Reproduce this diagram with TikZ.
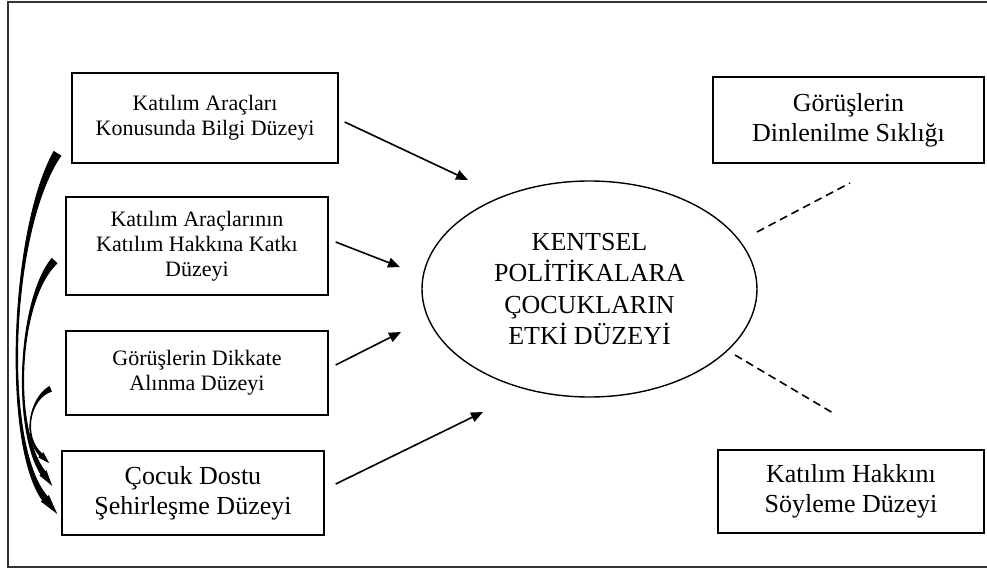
\documentclass[tikz,border=0pt]{standalone}
\usepackage{fontspec}
\setmainfont{Liberation Serif}
\usetikzlibrary{arrows.meta,shapes.geometric}

\begin{document}
\begin{tikzpicture}[x=0.5pt,y=-0.5pt,
    box/.style={draw,line width=0.7pt,align=center,inner sep=0pt,minimum width=131pt},
    small/.style={font=\fontsize{11}{12.5}\selectfont},
    big/.style={font=\fontsize{13}{15}\selectfont},
    arr/.style={line width=0.8pt,-{Triangle[length=6pt,width=5pt]}},
    dashline/.style={line width=0.8pt,dash pattern=on 4pt off 2.5pt},
    sidelink/.style={line width=0.5pt}]
    \useasboundingbox (0,0) rectangle (987,572);
    \draw[line width=1pt,black!80] (8,2) rectangle (995,567);

    % factor boxes
    \node[box,small,minimum width=133pt,minimum height=45pt] (b1) at (205,118) {Katılım Araçları\\Konusunda Bilgi Düzeyi};
    \node[box,small,minimum height=49pt] (b2) at (197,246) {Katılım Araçlarının\\Katılım Hakkına Katkı\\Düzeyi};
    \node[box,small,minimum height=42pt] (b3) at (197,373) {Görüşlerin Dikkate\\Alınma Düzeyi};
    \node[box,big,minimum height=42pt] (b4) at (193,493) {Çocuk Dostu\\Şehirleşme Düzeyi};
    \node[box,big,minimum width=135.5pt,minimum height=43pt] (b5) at (848.5,120) {Görüşlerin\\Dinlenilme Sıklığı};
    \node[box,big,minimum width=133pt,minimum height=41.5pt] (b6) at (851,491.5) {Katılım Hakkını\\Söyleme Düzeyi};
    \node[ellipse,draw,line width=0.7pt,minimum width=167.5pt,minimum height=108pt,inner sep=0pt,
          align=center,font=\fontsize{13}{15.75}\selectfont] (core) at (589.5,289)
          {KENTSEL\\POLİTİKALARA\\ÇOCUKLARIN\\ETKİ DÜZEYİ};

    % arrows towards the ellipse
    \coordinate (t1) at (468,180);
    \coordinate (t2) at (400,267);
    \coordinate (t3) at (401,332);
    \coordinate (t4) at (483,412);
    \draw[arr] ([xshift=3pt,yshift=-2pt]b1.east) -- (t1);
    \draw[arr] ([xshift=3.5pt,yshift=2pt]b2.east) -- (t2);
    \draw[arr] ([xshift=3.5pt,yshift=4pt]b3.east) -- (t3);
    \draw[arr] ([xshift=5.5pt,yshift=4.5pt]b4.east) -- (t4);

    % dashed links
    \coordinate (d1) at (757,232);
    \coordinate (d2) at (850,183);
    \coordinate (d3) at (735,355);
    \coordinate (d4) at (833,413);
    \draw[dashline] (d1) -- (d2);
    \draw[dashline] (d3) -- (d4);

    % curved links on the left (tapered strokes)
    \coordinate (s1) at ([shift={(-7pt,5pt)}]b1.south west);
    \coordinate (s2) at ([shift={(-5.5pt,-7.5pt)}]b2.west);
    \coordinate (s3) at ([shift={(-7.5pt,-8pt)}]b3.west);
    \coordinate (f1) at ([shift={(-2pt,-10.5pt)}]b4.west);
    \coordinate (f2) at ([shift={(-4.5pt,3.5pt)}]b4.west);
    \coordinate (f3) at ([shift={(-6pt,-6.5pt)}]b4.north west);
    \coordinate (e1) at ([shift={(-12.4,-15.6)}]f1);
    \coordinate (e2) at ([shift={(-9.3,-13)}]f2);
    \coordinate (e3) at ([shift={(-8.5,-8.5)}]f3);
    \coordinate (p1) at (10,230);  \coordinate (q1) at (2,444);
    \coordinate (p2) at (18,300);  \coordinate (q2) at (12,428);
    \coordinate (p3) at (30,398);  \coordinate (q3) at (22,436);
    \coordinate (so1) at ([shift={(-3.4,-2.1)}]s1); \coordinate (si1) at ([shift={(3.4,2.1)}]s1);
    \coordinate (so2) at ([shift={(-2.5,-2.4)}]s2); \coordinate (si2) at ([shift={(2.5,2.4)}]s2);
    \coordinate (so3) at ([shift={(-1,-2.3)}]s3);   \coordinate (si3) at ([shift={(1,2.3)}]s3);
    \coordinate (eo1) at ([shift={(-2.3,1.9)}]e1);  \coordinate (ei1) at ([shift={(2.3,-1.9)}]e1);
    \coordinate (eo2) at ([shift={(-2,1.45)}]e2);   \coordinate (ei2) at ([shift={(2,-1.45)}]e2);
    \coordinate (eo3) at ([shift={(-1,1)}]e3);      \coordinate (ei3) at ([shift={(1,-1)}]e3);
    \foreach \i/\h/\w in {1/10/5,2/8/4.2,3/6/3.5} {
        \filldraw[sidelink] (so\i) .. controls (p\i) and (q\i) .. (eo\i) -- (ei\i)
            .. controls (q\i) and (p\i) .. (si\i) -- cycle;
        \draw[sidelink,-{Triangle[length=\h pt,width=\w pt]}] (e\i) -- (f\i);
    }
\end{tikzpicture}
\end{document}
